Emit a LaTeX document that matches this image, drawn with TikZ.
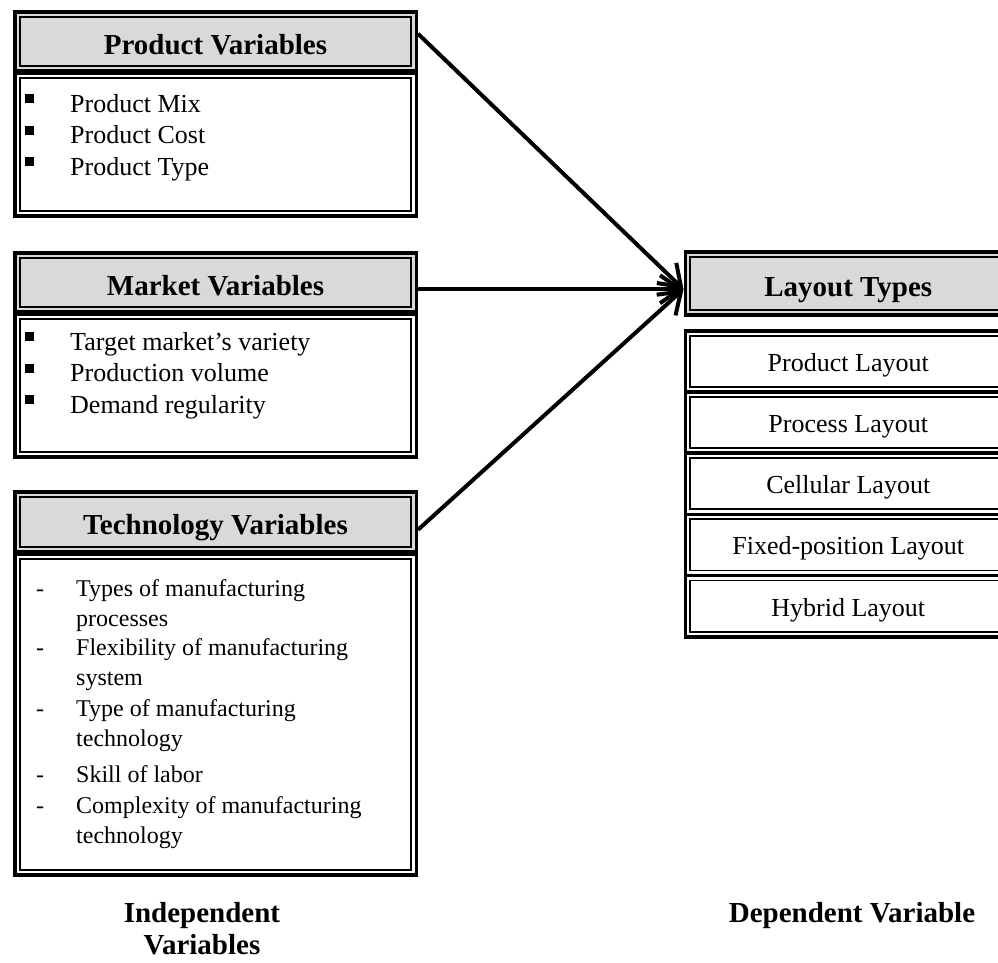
\documentclass[tikz,border=0pt]{standalone}
\usepackage{fontspec}
\setmainfont{Liberation Serif}
\usetikzlibrary{arrows.meta}

\begin{document}
\begin{tikzpicture}[x=1pt,y=-1pt,every node/.style={inner sep=0pt},
  dbox/.style={draw,line width=3.5pt,minimum width=401.5pt,anchor=north west,
    path picture={\draw[line width=1.8pt] ([shift={(5pt,-5pt)}]path picture bounding box.north west) rectangle ([shift={(-5pt,5pt)}]path picture bounding box.south east);}},
  hbox/.style={dbox,fill=black!15,font=\fontsize{29}{34}\selectfont\bfseries,text height=26pt,text depth=0pt},
  lbox/.style={dbox,minimum width=326pt,minimum height=61.2pt,font=\fontsize{26}{31}\selectfont,text height=20pt,text depth=0pt},
  item/.style={anchor=base west,font=\fontsize{26}{31}\selectfont},
  titem/.style={anchor=base west,align=left,font=\fontsize{24}{30}\selectfont},
  lab/.style={anchor=base,align=center,font=\fontsize{29}{32}\selectfont\bfseries},
  arr/.style={-{Straight Barb[length=20pt,width=28pt]},line width=4pt}]
  \useasboundingbox (0,0) rectangle (998,962);
  % independent side
  \node[hbox,minimum height=59pt] (pv) at (13,10) {Product Variables};
  \node[dbox,minimum height=143pt] (pb) at (13,71) {};
  \node[hbox,minimum height=59pt] (mv) at (13,251) {Market Variables};
  \node[dbox,minimum height=143pt] (mb) at (13,312) {};
  \node[hbox,minimum height=60pt] (tv) at (13,490) {Technology Variables};
  \node[dbox,minimum height=321pt] (tb) at (13,552) {};
  \foreach \t [count=\i] in {Product Mix,Product Cost,Product Type} {
    \node[item] (pi\i) at (70,{112+31.5*(\i-1)}) {\t};
    \fill ([shift={(-45pt,9pt)}]pi\i.base west) rectangle +(9pt,9pt);
  }
  \foreach \t [count=\i] in {Target market’s variety,Production volume,Demand regularity} {
    \node[item] (mi\i) at (70,{350+31.5*(\i-1)}) {\t};
    \fill ([shift={(-45pt,9pt)}]mi\i.base west) rectangle +(9pt,9pt);
  }
  % base of a two-line item is its last line
  \foreach \t/\y/\d [count=\i] in {Types of manufacturing\\processes/626/596,Flexibility of manufacturing\\system/685/655,Type of manufacturing\\technology/746/716,Skill of labor/782/782,Complexity of manufacturing\\technology/843/813} {
    \node[titem] (td\i) at (36,\d) {-};
    \node[titem] (ti\i) at (76,\y) {\t};
  }
  % dependent side
  \node[hbox,minimum width=326pt,minimum height=63pt] (lt) at (683.5,250) {Layout Types};
  \foreach \t [count=\i from 0] in {Product Layout,Process Layout,Cellular Layout,Fixed-position Layout,Hybrid Layout}
    \node[lbox] (r\i) at (683.5,{329+61.2*\i}) {\t};
  % arrows
  \coordinate (tip) at ([yshift=-6pt]lt.west);
  \draw[arr] ([yshift=7.5pt]pv.east) -- (tip);
  \draw[arr] ([yshift=-7pt]mv.east) -- (tip);
  \draw[arr] ([yshift=-8pt]tv.east) -- (tip);
  \node[lab] (iv) at (202,954) {Independent\\Variables};
  \node[lab] (dv) at (852,922) {Dependent Variable};
\end{tikzpicture}
\end{document}
